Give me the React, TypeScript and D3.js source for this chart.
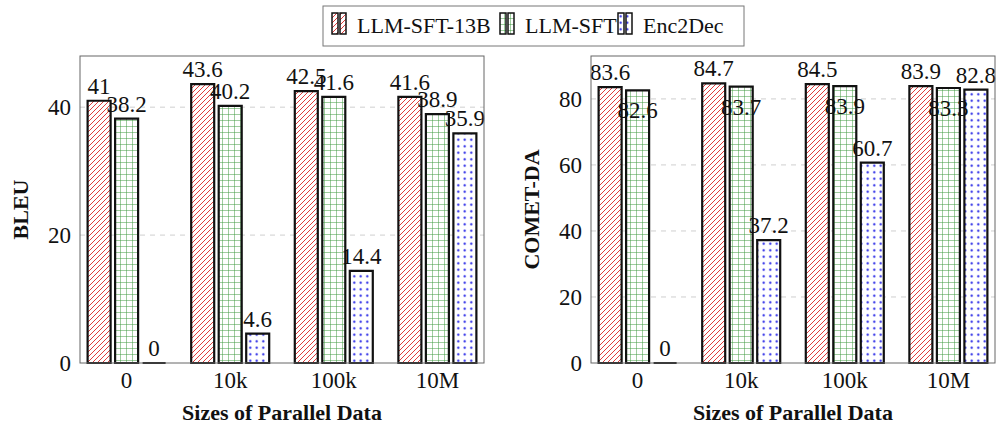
import React from 'react'
import * as d3 from 'd3'

const categories = ['0', '10k', '100k', '10M']
const seriesNames = ['LLM-SFT-13B', 'LLM-SFT', 'Enc2Dec']

const bleu13b = [41, 43.6, 42.5, 41.6]
const bleuSft = [38.2, 40.2, 41.6, 38.9]
const bleuEnc = [0, 4.6, 14.4, 35.9]
const bleuTicks = [0, 20, 40]

const comet13b = [83.6, 84.7, 84.5, 83.9]
const cometSft = [82.6, 83.7, 83.9, 83.3]
const cometEnc = [0, 37.2, 60.7, 82.8]
const cometTicks = [0, 20, 40, 60, 80]

const patterns = ['hatchRed', 'gridGreen', 'dotsBlue']
const serif = 'Liberation Serif'

const W = 997
const H = 430
const top = 56
const bottom = 363
const barW = 23
const barStep = 27.5

// labelLift: px between bar top and label centre (negative = label sits inside the bar, as in the source)
const panels = [
  { title: 'BLEU', left: 80, right: 484, max: 48, ticks: bleuTicks, series: [bleu13b, bleuSft, bleuEnc], labelLift: [15, 15, 15] },
  { title: 'COMET-DA', left: 591, right: 995, max: 93, ticks: cometTicks, series: [comet13b, cometSft, cometEnc], labelLift: [15, -20, 15] },
]

function Panel({ p }) {
  const x = d3.scalePoint().domain(categories).range([p.left, p.right]).padding(0.45)
  const y = d3.scaleLinear().domain([0, p.max]).range([bottom, top])
  const cx = (p.left + p.right) / 2
  const cy = (top + bottom) / 2
  return (
    <g>
      {/* grid */}
      {p.ticks.filter(t => t > 0).map(t => (
        <line key={t} x1={p.left} x2={p.right} y1={y(t)} y2={y(t)} stroke="#cfcfcf" strokeDasharray="5,5" strokeWidth={1} />
      ))}
      {/* bars (path so that a zero bar still shows its outline) */}
      {p.series.map((vals, si) =>
        vals.map((v, ci) => {
          const bx = x(categories[ci]) + (si - 1) * barStep - barW / 2
          const h = bottom - y(v)
          return (
            <path key={`${si}-${ci}`} d={`M${bx},${bottom}v${-h}h${barW}v${h}Z`}
              fill={`url(#${patterns[si]})`} stroke="#111" strokeWidth={2.2} />
          )
        })
      )}
      {/* value labels */}
      {p.series.map((vals, si) =>
        vals.map((v, ci) => (
          <text key={`l${si}-${ci}`} x={x(categories[ci]) + (si - 1) * barStep} y={y(v) - p.labelLift[si]}
            dy="0.35em" textAnchor="middle" fontSize={23} fontFamily={serif} fill="#111">{v}</text>
        ))
      )}
      {/* frame */}
      <rect x={p.left} y={top} width={p.right - p.left} height={bottom - top} fill="none" stroke="#666" strokeWidth={1} />
      {/* y ticks */}
      {p.ticks.map(t => (
        <text key={`t${t}`} x={p.left - 9} y={y(t)} dy="0.35em" textAnchor="end" fontSize={23} fontFamily={serif} fill="#111">{t}</text>
      ))}
      {/* x ticks */}
      {categories.map(c => (
        <text key={`x${c}`} x={x(c)} y={388} textAnchor="middle" fontSize={23} fontFamily={serif} fill="#111">{c}</text>
      ))}
      <text x={cx} y={420} textAnchor="middle" fontSize={22} fontWeight="bold" fontFamily={serif} fill="#111">Sizes of Parallel Data</text>
      <text transform={`translate(${p.left - 52},${cy}) rotate(-90)`} textAnchor="middle" fontSize={22} fontWeight="bold" fontFamily={serif} fill="#111">{p.title}</text>
    </g>
  )
}

const legendX = [332, 500, 618]

export default function App() {
  return (
    <svg width={W} height={H} style={{ position: 'absolute', left: 0, top: 0, background: '#fff' }}>
      <defs>
        <pattern id="hatchRed" patternUnits="userSpaceOnUse" width={5} height={5}>
          <rect width={5} height={5} fill="#fff" />
          <path d="M-1,1 l2,-2 M0,5 l5,-5 M4,6 l2,-2" stroke="#e03c3c" strokeWidth={1} />
        </pattern>
        <pattern id="gridGreen" patternUnits="userSpaceOnUse" width={6} height={6}>
          <rect width={6} height={6} fill="#fff" />
          <path d="M0,0 H6 M0,0 V6" stroke="#3f9a3f" strokeWidth={1} />
        </pattern>
        <pattern id="dotsBlue" patternUnits="userSpaceOnUse" width={6.5} height={6.5}>
          <rect width={6.5} height={6.5} fill="#fff" />
          <circle cx={3.25} cy={3.25} r={1.1} fill="#1f1fe6" />
        </pattern>
      </defs>
      <rect x={323} y={6} width={421} height={40} fill="#fff" stroke="#777" strokeWidth={1} />
      {seriesNames.map((s, i) => (
        <g key={s}>
          <rect x={legendX[i]} y={13} width={6} height={21} fill={`url(#${patterns[i]})`} stroke="#111" strokeWidth={1.5} />
          <rect x={legendX[i] + 8} y={13} width={6} height={21} fill={`url(#${patterns[i]})`} stroke="#111" strokeWidth={1.5} />
          <text x={legendX[i] + 25} y={33} fontSize={22} fontFamily={serif} fill="#111">{s}</text>
        </g>
      ))}
      {panels.map(p => <Panel key={p.title} p={p} />)}
    </svg>
  )
}
